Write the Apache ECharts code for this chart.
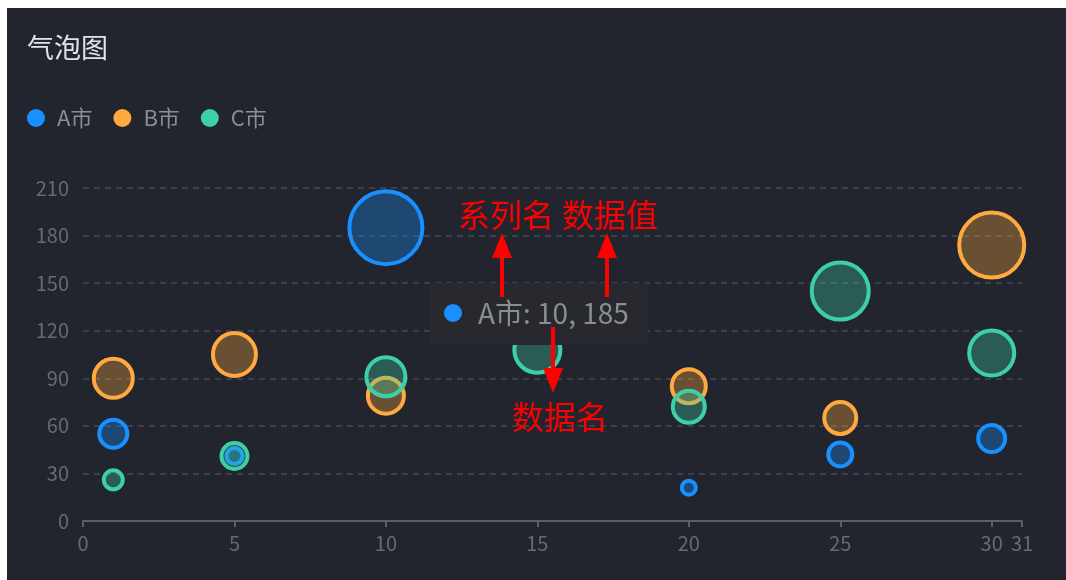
<!DOCTYPE html>
<html>
<head>
<meta charset="utf-8">
<script src="https://cdn.jsdelivr.net/npm/echarts@6/dist/echarts.min.js"></script>
<style>
html,body{margin:0;padding:0;background:#ffffff;width:1066px;height:580px;overflow:hidden;}
#chart{position:absolute;left:7px;top:8px;width:1059px;height:572px;}
</style>
</head>
<body>
<div id="chart"></div>
<script>
// ---- data ----
const titleText = '气泡图';
const seriesNames = ['A市', 'B市', 'C市'];
const seriesColors = ['#1890ff', '#ffa940', '#3dcfa7'];
const seriesFills = ['rgba(24,144,255,0.33)', 'rgba(255,169,64,0.33)', 'rgba(61,207,167,0.33)'];

const aX = [1, 5, 10, 15, 20, 25, 30];
const aY = [55, 41, 185, 140, 21, 42, 52];
const aSize = [28, 16, 73, 18, 14, 24, 27];

const bX = [1, 5, 10, 15, 20, 25, 30];
const bY = [90, 105, 79, 120, 85, 65, 174];
const bSize = [39, 43, 36, 20, 34, 32, 65];

const cX = [1, 5, 10, 15, 20, 25, 30];
const cY = [26, 41, 91, 108, 72, 145, 106];
const cSize = [19, 26, 39, 46, 32, 57, 45];

const xMin = 0, xMax = 31, xInterval = 5;
const yMin = 0, yMax = 210, yInterval = 30;

// tooltip shown for A市 third point
const tipSeries = 0, tipIndex = 2;
const annoTop1 = '系列名', annoTop2 = '数据值', annoBottom = '数据名';

// ---- build ----
const font = '"Noto Sans CJK SC", "Noto Sans", sans-serif';
const xs = [aX, bX, cX], ys = [aY, bY, cY], ss = [aSize, bSize, cSize];

const series = seriesNames.map((n, i) => ({
  name: n,
  type: 'scatter',
  data: xs[i].map((x, k) => [x, ys[i][k], ss[i][k]]),
  symbolSize: v => v[2],
  itemStyle: { color: seriesFills[i], borderColor: seriesColors[i], borderWidth: 4, opacity: 1 },
  emphasis: { disabled: true }
}));

const tipText = seriesNames[tipSeries] + ': ' + xs[tipSeries][tipIndex] + ', ' + ys[tipSeries][tipIndex];
const red = '#ff0000';

function upArrow(x, tipY, baseY, endY) {
  return [
    { type: 'rect', z: 101, shape: { x: x - 2, y: baseY - 1, width: 4, height: endY - baseY + 1 }, style: { fill: red } },
    { type: 'polygon', z: 101, shape: { points: [[x, tipY], [x - 10, baseY], [x + 10, baseY]] }, style: { fill: red } }
  ];
}
function downArrow(x, startY, baseY, tipY) {
  return [
    { type: 'rect', z: 101, shape: { x: x - 2, y: startY, width: 4, height: baseY - startY + 1 }, style: { fill: red } },
    { type: 'polygon', z: 101, shape: { points: [[x, tipY], [x - 10, baseY], [x + 10, baseY]] }, style: { fill: red } }
  ];
}

const option = {
  backgroundColor: '#22242e',
  animation: false,
  textStyle: { fontFamily: font },
  title: {
    text: titleText, left: 20, top: 26, padding: 0,
    textStyle: { color: '#e2e3e8', fontSize: 27, fontWeight: 'normal', fontFamily: font }
  },
  legend: {
    left: 20, top: 99, padding: 0,
    itemWidth: 32, itemHeight: 18, itemGap: 21,
    icon: 'circle',
    itemStyle: { borderWidth: 0, opacity: 1 },
    data: seriesNames.map((n, i) => ({ name: n, itemStyle: { color: seriesColors[i], borderWidth: 0, opacity: 1 } })),
    textStyle: { color: '#8b8e98', fontSize: 22, fontFamily: font }
  },
  grid: { left: 76, top: 180, right: 44, bottom: 59, containLabel: false },
  xAxis: {
    type: 'value', min: xMin, max: xMax, interval: xInterval,
    splitLine: { show: false },
    axisLine: { lineStyle: { color: '#5c5f6a', width: 2 } },
    axisTick: { show: true, length: 6, lineStyle: { color: '#5c5f6a', width: 2 } },
    axisLabel: { color: '#676a75', fontSize: 20, margin: 12, fontFamily: font }
  },
  yAxis: {
    type: 'value', min: yMin, max: yMax, interval: yInterval,
    axisLine: { show: false },
    axisTick: { show: false },
    splitLine: { lineStyle: { color: '#464954', type: [6, 5], width: 1.5 } },
    axisLabel: { color: '#676a75', fontSize: 20, margin: 14, fontFamily: font }
  },
  series: series,
  graphic: [
    { type: 'rect', z: 100, shape: { x: 423, y: 275, width: 218, height: 62, r: 4 }, style: { fill: '#27292e' } },
    { type: 'circle', z: 101, shape: { cx: 446, cy: 305, r: 9 }, style: { fill: seriesColors[tipSeries] } },
    { type: 'text', z: 101, x: 471, y: 305, style: { text: tipText, fill: '#8b8d94', font: '28px ' + font, verticalAlign: 'middle' } },
    { type: 'text', z: 101, x: 499, y: 207, style: { text: annoTop1, fill: red, font: '32px ' + font, align: 'center', verticalAlign: 'middle' } },
    { type: 'text', z: 101, x: 603, y: 207, style: { text: annoTop2, fill: red, font: '32px ' + font, align: 'center', verticalAlign: 'middle' } },
    { type: 'text', z: 101, x: 553, y: 409, style: { text: annoBottom, fill: red, font: '32px ' + font, align: 'center', verticalAlign: 'middle' } }
  ].concat(upArrow(495, 225, 250, 289), upArrow(600, 225, 250, 289), downArrow(546, 319, 360, 385))
};

const chart = echarts.init(document.getElementById('chart'), null, { renderer: 'canvas' });
chart.setOption(option);
</script>
</body>
</html>
